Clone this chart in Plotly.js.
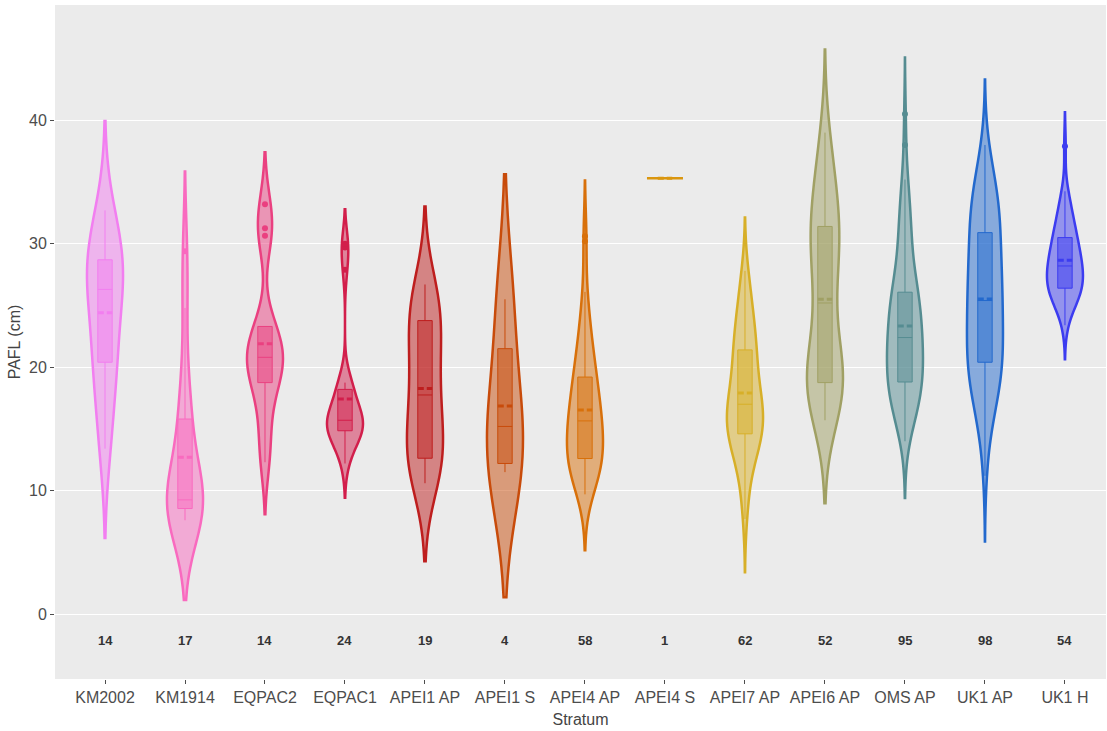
<!DOCTYPE html>
<html>
<head>
<meta charset="utf-8">
<script src="https://cdn.plot.ly/plotly-3.0.1.min.js"></script>
<style>
  html, body { margin: 0; padding: 0; background: #ffffff; }
  #chart { width: 1107px; height: 731px; }
</style>
</head>
<body>
<div id="chart"></div>
<script>
// Strata shown along the x axis, in plotting order
const strata = ['KM2002', 'KM1914', 'EQPAC2', 'EQPAC1', 'APEI1 AP', 'APEI1 S',
                'APEI4 AP', 'APEI4 S', 'APEI7 AP', 'APEI6 AP', 'OMS AP', 'UK1 AP', 'UK1 H'];

// One colour per stratum
const strataColors = ['#F27EF0', '#F96ABF', '#EA4080', '#D21E4B', '#BE1E1E', '#C84B0A',
                      '#D8700A', '#DA960F', '#D7AF28', '#A0A064', '#558C91', '#2369CD', '#3C3CF0'];

// PAFL measurements (cm) per stratum
const pafl_KM2002 = [13.4, 15.6, 19.2, 20.4, 20.9, 22.8, 25.9, 26.7, 27.4, 28.0, 28.7, 29.1, 30.8, 32.7];

const pafl_KM1914 = [7.6, 7.9, 8.2, 8.4, 8.6, 8.8, 9.0, 9.1, 9.25, 10.5, 11.0, 13.0, 15.6, 16.4,
                     18.5, 24.8, 29.4];

const pafl_EQPAC2 = [12.3, 14.5, 17.0, 18.75, 19.5, 20.2, 20.6, 21.0, 21.8, 22.6, 23.3,
                     30.65, 31.25, 33.2];

const pafl_EQPAC1 = [12.2, 13.2, 13.8, 14.2, 14.5, 14.7, 15.0, 15.2, 15.3, 15.4, 15.5, 15.6,
                     15.8, 16.0, 16.3, 16.7, 17.2, 17.9, 18.5, 18.6, 18.75, 27.9, 29.7, 30.0];

const pafl_APEI1_AP = [10.6, 12.0, 12.2, 12.4, 12.5, 13.0, 15.0, 15.8, 16.9, 17.75, 19.0, 20.4,
                       21.2, 22.8, 24.1, 24.5, 24.9, 25.3, 26.7];

const pafl_APEI1_S = [11.5, 12.9, 17.5, 25.5];

const pafl_APEI4_AP = [9.7, 10.2, 10.6, 10.9, 11.1, 11.3, 11.5, 11.7, 11.8, 12.0, 12.1, 12.2,
                       12.3, 12.5, 12.6, 12.8, 13.0, 13.2, 13.5, 13.7, 13.9, 14.1, 14.3, 14.6,
                       14.8, 15.0, 15.2, 15.4, 15.6, 15.7, 15.9, 16.1, 16.3, 16.5, 16.8, 17.1,
                       17.4, 17.6, 17.9, 18.1, 18.4, 18.7, 19.0, 19.2, 19.6, 20.0, 20.3, 20.6,
                       21.1, 21.6, 22.1, 22.6, 23.2, 24.0, 24.9, 26.1, 30.2, 30.6];

const pafl_APEI4_S = [35.3];

const pafl_APEI7_AP = [7.7, 9.0, 10.0, 10.8, 11.5, 12.5, 12.8, 13.1, 13.4, 13.6, 13.8, 14.0,
                       14.1, 14.3, 14.5, 14.6, 14.8, 15.0, 15.2, 15.3, 15.5, 15.6, 15.8, 15.9,
                       16.1, 16.2, 16.4, 16.5, 16.7, 16.8, 16.9, 17.1, 17.3, 17.6, 17.9, 18.2,
                       18.5, 18.8, 19.1, 19.4, 19.7, 20.0, 20.3, 20.6, 20.9, 21.1, 21.4, 21.7,
                       22.0, 22.3, 22.6, 22.9, 23.2, 23.5, 23.9, 24.3, 24.7, 25.4, 26.0, 26.6,
                       27.2, 27.8];

const pafl_APEI6_AP = [15.7, 16.0, 16.4, 16.8, 17.2, 17.8, 18.0, 18.2, 18.3, 18.4, 18.5, 18.6,
                       18.7, 18.8, 19.0, 19.2, 19.4, 19.7, 20.0, 20.3, 20.7, 21.2, 22.0, 23.2,
                       24.3, 25.0, 25.4, 25.8, 26.8, 27.6, 28.2, 28.7, 29.1, 29.5, 29.8, 30.1,
                       30.4, 30.8, 31.1, 31.7, 32.0, 32.4, 32.8, 33.2, 33.6, 34.0, 35.2, 35.8,
                       36.4, 37.4, 38.2, 39.0];

const pafl_OMS_AP = [14.0, 14.6, 15.1, 15.5, 15.8, 16.1, 16.3, 16.5, 16.7, 16.9, 17.1, 17.2,
                     17.4, 17.5, 17.7, 17.8, 18.0, 18.1, 18.2, 18.3, 18.4, 18.5, 18.6, 18.7,
                     19.1, 19.2, 19.4, 19.5, 19.7, 19.8, 20.0, 20.1, 20.3, 20.4, 20.6, 20.7,
                     20.9, 21.0, 21.2, 21.3, 21.5, 21.6, 21.8, 21.9, 22.1, 22.2, 22.3, 22.4,
                     22.5, 22.7, 22.8, 23.0, 23.2, 23.4, 23.6, 23.8, 24.0, 24.2, 24.4, 24.6,
                     24.8, 25.0, 25.2, 25.4, 25.5, 25.6, 25.7, 25.8, 25.9, 26.0, 26.0, 26.1,
                     26.4, 26.8, 27.2, 27.6, 28.0, 28.4, 28.8, 29.2, 29.6, 30.0, 30.4, 30.8,
                     31.2, 31.6, 32.0, 32.5, 33.0, 33.6, 34.2, 34.7, 35.2, 38.0, 40.5];

const pafl_UK1_AP = [11.2, 13.0, 14.2, 15.0, 15.6, 16.1, 16.5, 16.9, 17.2, 17.5, 17.8, 18.0,
                     18.2, 18.4, 18.6, 18.8, 19.0, 19.2, 19.4, 19.6, 19.8, 20.0, 20.1, 20.3,
                     20.4, 20.6, 20.8, 21.0, 21.2, 21.4, 21.6, 21.8, 22.0, 22.2, 22.4, 22.6,
                     22.8, 23.0, 23.2, 23.4, 23.6, 23.8, 24.0, 24.3, 24.5, 24.7, 24.9, 25.1,
                     25.3, 25.5, 25.7, 25.9, 26.1, 26.3, 26.5, 26.7, 26.9, 27.1, 27.3, 27.5,
                     27.7, 27.9, 28.1, 28.3, 28.5, 28.8, 29.0, 29.2, 29.4, 29.6, 29.9, 30.2,
                     30.5, 30.9, 31.1, 31.3, 31.5, 31.7, 31.9, 32.1, 32.3, 32.5, 32.7, 32.9,
                     33.1, 33.3, 33.5, 33.7, 34.0, 34.3, 34.6, 34.9, 35.2, 35.6, 36.0, 36.5,
                     37.1, 38.0];

const pafl_UK1_H = [23.4, 24.2, 24.7, 25.0, 25.3, 25.5, 25.7, 25.8, 25.9, 26.0, 26.1, 26.2,
                    26.3, 26.4, 26.5, 26.7, 26.8, 27.0, 27.1, 27.3, 27.4, 27.5, 27.7, 27.8,
                    27.9, 28.0, 28.1, 28.3, 28.4, 28.6, 28.7, 28.9, 29.1, 29.2, 29.4, 29.6,
                    29.7, 29.9, 30.1, 30.3, 30.5, 30.7, 30.9, 31.1, 31.3, 31.6, 31.9, 32.2,
                    32.5, 32.9, 33.3, 33.8, 34.25, 37.9];

const samples = [pafl_KM2002, pafl_KM1914, pafl_EQPAC2, pafl_EQPAC1, pafl_APEI1_AP, pafl_APEI1_S,
                 pafl_APEI4_AP, pafl_APEI4_S, pafl_APEI7_AP, pafl_APEI6_AP, pafl_OMS_AP,
                 pafl_UK1_AP, pafl_UK1_H];

// Sample size per stratum, printed under each violin
const counts = samples.map(s => s.length);

const countLabelY = -2.15;

const traces = strata.map((name, i) => ({
  type: 'violin',
  name: name,
  x: samples[i].map(() => name),
  y: samples[i],
  width: 0.45,
  line: { color: strataColors[i], width: 2.5 },
  box: { visible: true, width: 0.4, line: { width: 1, color: strataColors[i] } },
  meanline: { visible: true, width: 3, color: strataColors[i] },
  points: 'outliers',
  marker: { color: strataColors[i], size: 6 },
  showlegend: false,
  hoverinfo: 'y'
}));

const annotations = strata.map((name, i) => ({
  x: name,
  y: countLabelY,
  xref: 'x',
  yref: 'y',
  text: '<b>' + counts[i] + '</b>',
  showarrow: false,
  font: { size: 13, color: '#333333' }
}));

const layout = {
  width: 1107,
  height: 731,
  margin: { l: 55, r: 1, t: 5, b: 52 },
  paper_bgcolor: '#ffffff',
  plot_bgcolor: '#EBEBEB',
  font: { family: 'Liberation Sans, Arial, sans-serif', color: '#4D4D4D' },
  showlegend: false,
  violinmode: 'overlay',
  xaxis: {
    type: 'category',
    range: [-0.625, 12.513],
    showgrid: false,
    zeroline: false,
    showline: false,
    ticks: 'outside',
    ticklen: 4,
    tickwidth: 1,
    tickcolor: '#4D4D4D',
    tickfont: { size: 16, color: '#4D4D4D' },
    title: { text: 'Stratum', font: { size: 16, color: '#444444' }, standoff: 8 }
  },
  yaxis: {
    range: [-5.26, 49.34],
    tickvals: [0, 10, 20, 30, 40],
    showgrid: true,
    gridcolor: '#ffffff',
    gridwidth: 1,
    zeroline: false,
    showline: false,
    ticks: 'outside',
    ticklen: 4,
    tickwidth: 1,
    tickcolor: '#4D4D4D',
    tickfont: { size: 16, color: '#4D4D4D' },
    title: { text: 'PAFL (cm)', font: { size: 16, color: '#444444' }, standoff: 4 }
  },
  annotations: annotations
};

Plotly.newPlot('chart', traces, layout, { displayModeBar: false, responsive: false });
</script>
</body>
</html>
